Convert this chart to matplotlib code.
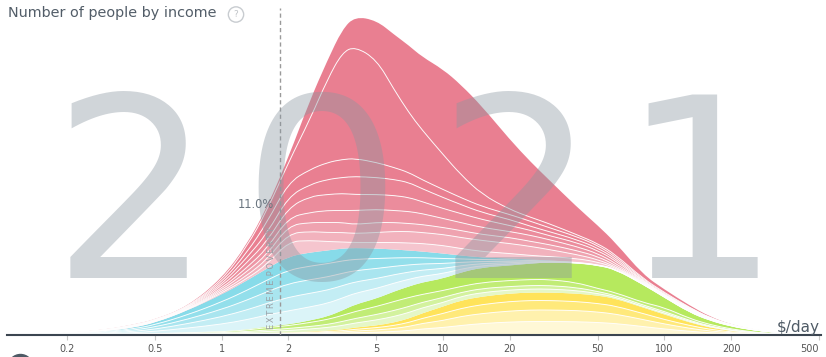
import matplotlib.pyplot as plt
import numpy as np
from matplotlib.path import Path
from matplotlib.patches import PathPatch, Ellipse

# income levels ($/day) where the curves were read
income = [0.15, 0.2, 0.3, 0.4, 0.5, 0.7, 1, 1.3, 1.6, 2, 2.5, 3, 3.5, 4, 5, 6, 7, 8, 10, 12,
          15, 20, 25, 30, 40, 50, 60, 80, 100, 130, 160, 200, 250, 300, 400, 500]

# cumulative heights (stack order: Europe yellow, Americas green, Africa blue, Asia pink)
yellow_top = [0, 0, 0, 0.1, 0.2, 0.3, 0.5, 1, 1.5, 2, 3, 4, 5, 7, 9, 12, 16, 21, 28, 34,
              38, 41, 42, 42, 41, 39, 36, 27, 20, 12, 7, 3.5, 1.5, 0.7, 0.2, 0]
green_top = [0, 0, 0.2, 0.5, 1, 2, 3, 5, 8, 10, 14, 18, 24, 30, 36, 43, 48, 52, 56, 62,
             67, 69, 71, 72, 71.5, 69, 65, 50, 37, 22, 14, 8.2, 4.6, 2.6, 0.8, 0.15]
blue_top = [0.4, 1.2, 3.5, 7, 12, 24, 40, 54, 66, 78, 82, 84, 86, 86.5, 86, 85, 84, 83, 81, 79,
            77, 76, 75, 74, 72.5, 70, 66, 51, 38, 23, 15, 8.8, 4.8, 2.7, 0.85, 0.15]
pink_top = [0.5, 1.5, 5, 10, 15, 28, 56, 90, 127, 177, 234, 274, 305, 318, 314, 300, 289, 278, 265, 250,
            228, 195, 172, 155, 128, 109, 92, 60, 45, 29, 18, 10, 5.4, 2.9, 0.95, 0.2]

# country borders inside each region (bottom to top)
yellow_lines = [
    [0, 0, 0, 0.02, 0.05, 0.08, 0.12, 0.25, 0.4, 0.5, 0.8, 1, 1.3, 1.8, 2.3, 3, 4, 5.5, 7, 9,
     11, 12.5, 13, 13, 12.8, 12, 11, 8, 5.5, 3.2, 1.8, 0.9, 0.35, 0.15, 0.05, 0],
    [0, 0, 0, 0.05, 0.1, 0.15, 0.25, 0.5, 0.75, 1, 1.5, 2, 2.5, 3.5, 4.5, 6, 8, 11, 14, 18,
     21, 23.5, 24.5, 24.5, 24, 22.5, 20.5, 15, 10.5, 6.2, 3.5, 1.7, 0.7, 0.3, 0.1, 0],
    [0, 0, 0, 0.08, 0.15, 0.22, 0.38, 0.75, 1.1, 1.5, 2.2, 3, 3.8, 5.2, 6.8, 9, 12, 16, 21, 26,
     30, 33, 34, 34, 33, 31, 28.5, 21, 15, 9, 5.2, 2.6, 1.1, 0.5, 0.15, 0],
]
green_lines = [
    [0, 0, 0.06, 0.2, 0.4, 0.7, 1.1, 2, 3, 4, 5.5, 7, 9, 11.5, 14.5, 18, 22, 26.5, 32, 38,
     42, 44.5, 45.5, 45.5, 44, 41, 37.5, 28, 21.5, 13, 7.7, 4, 1.7, 0.85, 0.24, 0.01],
    [0, 0, 0.12, 0.3, 0.6, 1.2, 1.8, 3, 4.5, 6, 8, 10, 13, 16, 20, 24, 28, 32, 37, 42,
     46, 48, 49, 49, 47, 43, 39, 29.5, 23, 14, 8.5, 4.5, 2, 1, 0.28, 0.02],
    [0, 0, 0.18, 0.45, 0.9, 1.8, 2.7, 4.4, 7, 8.8, 12, 15, 19, 23, 28, 33, 37, 40, 44, 48,
     52, 54, 55, 55, 52, 46, 42, 32, 27, 16, 10, 5.5, 2.6, 1.3, 0.35, 0.05],
]
blue_lines = [
    [0.08, 0.24, 0.86, 1.8, 3.2, 6.4, 10.4, 14.8, 19.6, 23.6, 27.6, 31.2, 36.4, 41.3, 46, 51.4, 55.2, 58.2, 61, 65.4,
     69, 70.4, 71.8, 72.4, 71.7, 69.2, 65.2, 50.2, 37.2, 22.2, 14.2, 8.3, 4.66, 2.64, 0.81, 0.15],
    [0.16, 0.48, 1.5, 3.1, 5.4, 10.8, 17.8, 24.6, 31.2, 37.2, 41.2, 44.4, 48.8, 52.6, 56, 59.8, 62.4, 64.4, 66, 68.8,
     71, 71.8, 72.6, 72.8, 71.9, 69.4, 65.4, 50.4, 37.4, 22.4, 14.4, 8.4, 4.7, 2.66, 0.82, 0.15],
    [0.24, 0.72, 2.2, 4.4, 7.6, 15.2, 25.2, 34.4, 42.8, 50.8, 54.8, 57.6, 61.2, 63.9, 66, 68.2, 69.6, 70.6, 71, 72.2,
     73, 73.2, 73.4, 73.2, 72.1, 69.6, 65.6, 50.6, 37.6, 22.6, 14.6, 8.5, 4.74, 2.68, 0.83, 0.15],
    [0.32, 0.96, 2.84, 5.7, 9.8, 19.6, 32.6, 44.2, 54.4, 64.4, 68.4, 70.8, 73.6, 75.2, 76, 76.6, 76.8, 76.8, 76, 75.6,
     75, 74.5, 74, 73.5, 72.3, 69.8, 65.8, 50.8, 37.8, 22.8, 14.8, 8.6, 4.77, 2.69, 0.84, 0.15],
]
pink_lines = [
    [0.41, 1.23, 3.65, 7.3, 12.3, 24.3, 41.5, 56, 70, 93, 94, 93, 92.5, 92, 92, 92, 91.5, 91, 89, 86,
     83, 81, 79, 78, 76, 72.5, 67, 51.5, 38.3, 23.6, 15.2, 8.9, 4.85, 2.72, 0.86, 0.16],
    [0.42, 1.26, 3.8, 7.6, 12.6, 24.6, 43, 59, 75, 101, 103, 102, 102, 101, 102, 103, 103, 102, 100, 97,
     94, 91, 88, 85, 80, 75, 68, 52, 38.6, 24.2, 15.4, 9, 4.9, 2.74, 0.87, 0.16],
    [0.43, 1.29, 3.95, 7.9, 12.9, 25, 44.5, 63, 80, 109, 112, 112, 112, 110, 112, 112, 111, 110, 107, 104,
     100, 97, 93, 90, 84, 78, 69.5, 52.5, 39, 24.6, 15.6, 9.1, 4.95, 2.76, 0.88, 0.17],
    [0.44, 1.32, 4.1, 8.2, 13.2, 25.5, 46, 67, 86, 117, 122, 124, 124, 124, 125, 124, 123, 121, 116, 112,
     107, 103, 99, 95, 88, 81, 71.5, 53, 39.4, 25, 15.8, 9.2, 5, 2.78, 0.89, 0.17],
    [0.45, 1.35, 4.25, 8.5, 13.5, 26, 48, 72, 93, 127, 138, 140, 141, 140, 140, 139, 137, 133, 126, 121,
     115, 109, 104, 99, 92, 84, 74, 53.5, 39.7, 25.5, 16, 9.3, 5.05, 2.8, 0.9, 0.18],
    [0.46, 1.38, 4.45, 8.9, 13.9, 26.5, 50, 77, 101, 138, 150, 155, 157, 158, 157, 155, 152, 146, 137, 130,
     122, 115, 108, 103, 95, 86.5, 76, 54, 40, 26, 16.3, 9.4, 5.1, 2.82, 0.91, 0.18],
    [0.47, 1.42, 4.65, 9.3, 14.3, 27, 52, 82, 112, 152, 165, 172, 175, 176, 172, 167, 162, 155, 145, 137,
     128, 120, 113, 107, 98, 89, 78, 55, 41, 26.5, 16.6, 9.5, 5.2, 2.85, 0.92, 0.19],
    [0.49, 1.46, 4.85, 9.7, 14.7, 27.5, 54, 88, 124, 172, 215, 255, 282, 288, 275, 245, 222, 205, 180, 160,
     140, 125, 117, 111, 100, 91, 80, 56, 42, 27, 17, 9.7, 5.3, 2.87, 0.93, 0.19],
]

tick_values = [0.2, 0.5, 1, 2, 5, 10, 20, 50, 100, 200, 500]
tick_labels = ["0.2", "0.5", "1", "2", "5", "10", "20", "50", "100", "200", "500"]
poverty_line = 1.84
year = "2021"

W, H = 826, 357
fig = plt.figure(figsize=(W / 100, H / 100), dpi=100)
fig.patch.set_facecolor("white")


def fx(px):
    return px / W


def fy(py):
    return 1 - py / H


ax = fig.add_axes([fx(7), fy(334.5), (821 - 7) / W, 330 / H])
ax.set_xscale("log")
ax.set_xlim(0.107, 510)
ax.set_ylim(0, 330)
ax.patch.set_alpha(0)


def mix(c, f):
    c = np.array(plt.matplotlib.colors.to_rgb(c))
    return tuple(1 - f * (1 - c))


def smooth(xs, ys):
    # quadratic bezier through the midpoints, read points used as control points
    xs = np.asarray(xs, float)
    ys = np.asarray(ys, float)
    mx = np.sqrt(xs[:-1] * xs[1:])
    my = (ys[:-1] + ys[1:]) / 2
    verts = [(xs[0], ys[0]), (mx[0], my[0])]
    codes = [Path.MOVETO, Path.LINETO]
    for i in range(1, len(xs) - 1):
        verts += [(xs[i], ys[i]), (mx[i], my[i])]
        codes += [Path.CURVE3, Path.CURVE3]
    verts.append((xs[-1], ys[-1]))
    codes.append(Path.LINETO)
    return verts, codes


def band(lower, upper, color):
    v1, c1 = smooth(income, upper)
    v2, c2 = smooth(income[::-1], lower[::-1])
    c2[0] = Path.LINETO
    verts = v1 + v2 + [v1[0]]
    codes = c1 + c2 + [Path.CLOSEPOLY]
    ax.add_patch(PathPatch(Path(verts, codes), fc=color, lw=0, zorder=1))


def border(vals):
    v, c = smooth(income, vals)
    ax.add_patch(PathPatch(Path(v, c), fill=False, ec="white", lw=0.7, alpha=0.9, zorder=2))


regions = [
    ("#ffe35a", [0] * len(income), yellow_lines, yellow_top, [0.25, 0.5, 0.8, 1.0]),
    ("#b6e95e", yellow_top, green_lines, green_top, [0.35, 0.6, 0.85, 1.0]),
    ("#87dbe9", green_top, blue_lines, blue_top, [0.3, 0.5, 0.72, 0.9, 1.0]),
    ("#e97f91", blue_top, pink_lines, pink_top, [0.45, 0.6, 0.72, 0.82, 0.9, 0.96, 1, 1, 1]),
]

for base, bottom, lines, top, shades in regions:
    bounds = [bottom] + lines + [top]
    for k in range(len(bounds) - 1):
        band(bounds[k], bounds[k + 1], mix(base, shades[k]))
    for ln in lines:
        border(ln)

ax.axvline(poverty_line, ymin=0, ymax=0.99, color="#9a9a9a", lw=1,
           linestyle=(0, (3, 2.2)), zorder=3)

for s in ["top", "right", "left"]:
    ax.spines[s].set_visible(False)
ax.spines["bottom"].set_color("#3b4550")
ax.spines["bottom"].set_linewidth(1.5)
ax.set_yticks([])
ax.set_xticks(tick_values)
ax.set_xticklabels(tick_labels)
ax.xaxis.set_minor_locator(plt.NullLocator())
ax.tick_params(axis="x", length=3.6, width=0.8, color="#c8c8c8", labelsize=7,
               labelcolor="#555555", pad=3.5)
ax.get_xticklabels()[-1].set_horizontalalignment("right")

# big year over the mountain
for ch, cx in zip(year, [132, 321, 517, 700]):
    fig.text(fx(cx), fy(278), ch, ha="center", va="baseline", fontsize=181,
             color="#8a96a0", alpha=0.4, zorder=5)

fig.text(fx(8), fy(17), "Number of people by income", fontsize=10.4, color="#525d68",
         ha="left", va="baseline", zorder=6)
fig.text(fx(236), fy(14.5), "?", fontsize=6.5, color="#c0c4c8", ha="center", va="center",
         bbox=dict(boxstyle="circle,pad=0.35", fc="none", ec="#c8ccd0", lw=1), zorder=6)
fig.text(fx(274), fy(204), "11.0%", fontsize=8.3, color="#6b7680", ha="right", va="center", zorder=6)
fig.text(fx(272), fy(329), "E\u2009X\u2009T\u2009R\u2009E\u2009M\u2009E\u2009 P\u2009O\u2009V\u2009E\u2009R\u2009T\u2009Y",
         rotation=90, fontsize=6, color="#9aa0a6", ha="center", va="bottom", zorder=6)
fig.text(fx(820), fy(332), "$/day", fontsize=11, color="#4f5b66", ha="right", va="baseline", zorder=6)

fig.patches.append(Ellipse((fx(20.5), fy(367)), 25 / W, 25 / H, transform=fig.transFigure,
                           color="#4e5a65", zorder=6))

fig.savefig("out.png", dpi=100)
